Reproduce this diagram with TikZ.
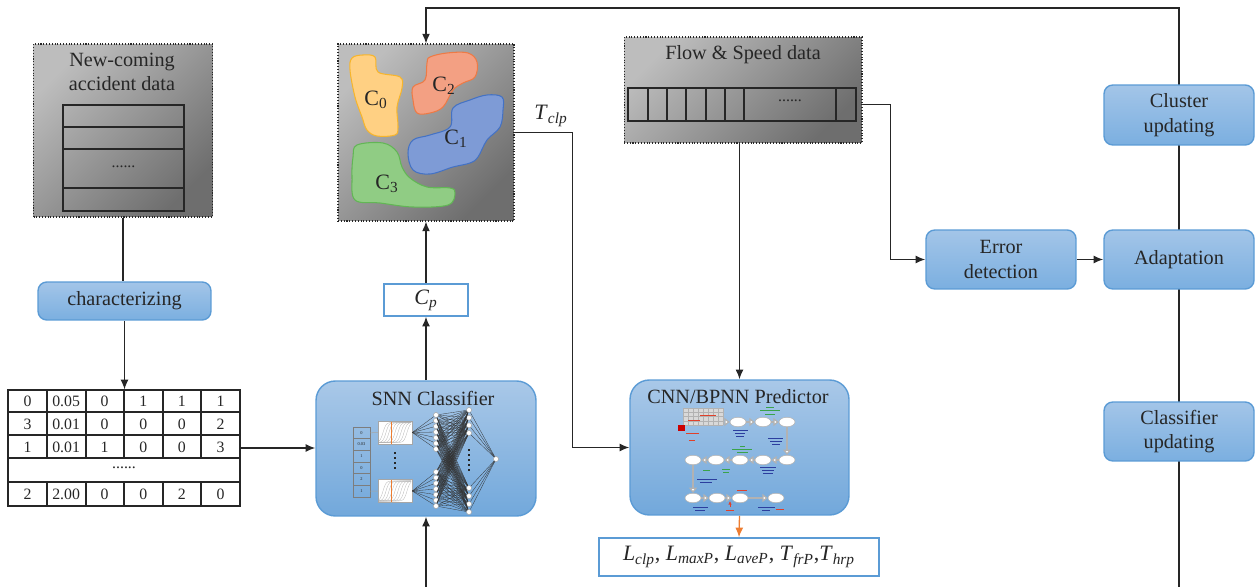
\documentclass[tikz,border=0pt]{standalone}
\usepackage{fontspec}
\setmainfont{Liberation Serif}
\usetikzlibrary{arrows.meta,shapes.geometric,calc}
\pgfdeclarelayer{background}
\pgfsetlayers{background,main}

\definecolor{ink}{HTML}{262626}
\definecolor{boxtop}{HTML}{A3C5E8}
\definecolor{boxbot}{HTML}{7BAFE0}
\definecolor{boxedge}{HTML}{5B9BD5}
\definecolor{bigtop}{HTML}{A9C8E8}
\definecolor{bigbot}{HTML}{72A8DB}
\definecolor{greylt}{HTML}{BDBDBD}
\definecolor{greydk}{HTML}{6E6E6E}
\definecolor{predout}{HTML}{ED7D31}
\definecolor{cyel}{HTML}{FFD083}
\definecolor{cyeledge}{HTML}{F7B52C}
\definecolor{cora}{HTML}{F3A083}
\definecolor{coraedge}{HTML}{EE7A45}
\definecolor{cblu}{HTML}{7E9BD6}
\definecolor{cbluedge}{HTML}{4472C4}
\definecolor{cgrn}{HTML}{90CC84}
\definecolor{cgrnedge}{HTML}{62B655}
\definecolor{scrblue}{HTML}{2C3E9E}
\definecolor{scrgreen}{HTML}{3AA34A}
\definecolor{scrred}{HTML}{E0402A}

\newcommand\itsub[2]{\textit{#1}\textsubscript{\textit{#2}}}
\newcommand\lbl{\fontsize{11.5}{14}\selectfont}

\tikzset{
  conn/.style={draw=ink, line width=0.75pt},
  arr/.style={conn, -{Latex[length=5.5pt,width=4.5pt]}},
  databox/.style={draw=ink, densely dotted, line width=0.6pt, inner sep=0pt,
    top color=greylt, bottom color=greydk, shading angle=45},
  procbox/.style={draw=boxedge, line width=0.8pt, rounded corners=5pt, inner sep=0pt,
    top color=boxtop, bottom color=boxbot, align=center, font=\lbl},
  bigbox/.style={draw=boxedge, line width=0.8pt, rounded corners=11pt, inner sep=0pt,
    top color=bigtop, bottom color=bigbot},
  outbox/.style={draw=boxedge, line width=0.8pt, fill=white, inner sep=0pt},
  tabline/.style={draw=ink, line width=0.7pt},
  cell/.style={font=\fontsize{9}{10}\selectfont, inner sep=0pt},
  blob/.style={line width=0.6pt},
  neuron/.style={circle, draw=gray!70, fill=white, line width=0.3pt, minimum size=2.9pt, inner sep=0pt},
  wire/.style={draw=black!80, line width=0.17pt},
  ell/.style={ellipse, draw=gray!60, fill=white, line width=0.3pt, minimum width=0.32cm, minimum height=0.19cm, inner sep=0pt},
  hollow/.style={draw=gray!60, line width=0.7pt, -{Triangle[length=3pt,width=4.5pt,fill=white]}},
  scrib/.style={line width=0.5pt, line cap=butt},
}

\begin{document}
\begin{tikzpicture}[x=0.02cm, y=-0.02cm, every node/.style={text=ink}]
\useasboundingbox (0,0) rectangle (1256,587);

% ---------- incoming accident records ----------
\node[databox, minimum width=3.58cm, minimum height=3.46cm] (newdata) at (123,130.5) {};
\node[font=\lbl, align=center] (newtitle) at (122,72) {New-coming\\accident data};
\node[tabline, minimum width=2.42cm, minimum height=2.12cm, inner sep=0pt] (rectab) at (123.5,158) {};
\foreach \yy in {127,149,188} \draw[tabline] (63,\yy) -- (184,\yy);
\node[cell] (recdots) at (123.5,167) {......};

\node[procbox, minimum width=3.46cm, minimum height=0.76cm] (charz) at (124.5,301) {characterizing};

% ---------- feature table ----------
\node[tabline, minimum width=4.64cm, minimum height=2.32cm, inner sep=0pt] (feat) at (124,448) {};
\foreach \yy in {412,435,458,482} \draw[tabline] (8,\yy) -- (240,\yy);
\foreach \xx in {47,86,124,163,201} {
  \draw[tabline] (\xx,390) -- (\xx,458);
  \draw[tabline] (\xx,482) -- (\xx,506);
}
\foreach \v [count=\c] in {0,0.05,0,1,1,1} \node[cell] (ra\c) at ({27.5+38.6*(\c-1)},401.5) {\v};
\foreach \v [count=\c] in {3,0.01,0,0,0,2} \node[cell] (rb\c) at ({27.5+38.6*(\c-1)},424) {\v};
\foreach \v [count=\c] in {1,0.01,1,0,0,3} \node[cell] (rc\c) at ({27.5+38.6*(\c-1)},447) {\v};
\node[cell] (featdots) at (124,468) {......};
\foreach \v [count=\c] in {2,2.00,0,0,2,0} \node[cell] (rd\c) at ({27.5+38.6*(\c-1)},494.5) {\v};

% ---------- SNN classifier ----------
\node[bigbox, minimum width=4.4cm, minimum height=2.7cm] (snn) at (426,448.5) {};
\node[font=\lbl] (snntitle) at (433,398) {SNN Classifier};
\foreach \v [count=\k] in {0,0.03,1,0,2,1}
  \node[draw=ink!60, line width=0.3pt, minimum width=0.34cm, minimum height=0.233cm, inner sep=0pt,
        font=\fontsize{2.5}{3}\selectfont] (vec\k) at (361.5,{427+11.67*(\k-0.5)}) {\v};
\foreach \b/\cy in {top/432.5, bot/491} {
  \node[draw=gray!70, fill=white, line width=0.3pt, minimum width=0.68cm, minimum height=0.46cm, inner sep=0pt] (sig\b) at (395,\cy) {};
  \foreach \s in {-12,-9,...,12}
    \draw[gray!60, line width=0.15pt] plot[domain=379:411, samples=25, variable=\t] (\t,{\cy-10*tanh((\t-395-\s)/3)});
  \draw[predout, line width=0.3pt] (391,\cy-11) -- (391,\cy+11);
}
\draw[gray!70, line width=0.3pt] (vec1.east) -- (sigtop.west);
\draw[gray!70, line width=0.3pt] (vec6.east) -- (sigbot.west);
\draw[ink, line width=0.9pt, dotted] (395,452) -- (395,472);
\foreach \k in {0,...,6} {
  \node[neuron] (na\k) at (436,{415+5.67*\k}) {};
  \node[neuron] (nb\k) at (436,{472+5.67*\k}) {};
}
\foreach \k in {0,...,3} {
  \node[neuron] (ma\k) at (469,{410+7.67*\k}) {};
  \node[neuron] (mb\k) at (469,{488+8*\k}) {};
}
\node[neuron] (nout) at (496,459) {};
\foreach \k in {0,...,6} {
  \draw[wire] (sigtop.east) -- (na\k);
  \draw[wire] (sigbot.east) -- (nb\k);
}
\foreach \i in {0,...,6} \foreach \j in {0,...,3} {
  \draw[wire] (na\i) -- (ma\j); \draw[wire] (na\i) -- (mb\j);
  \draw[wire] (nb\i) -- (ma\j); \draw[wire] (nb\i) -- (mb\j);
}
\foreach \j in {0,...,3} {
  \draw[wire] (ma\j) -- (nout);
  \draw[wire] (mb\j) -- (nout);
}
\draw[ink, line width=0.9pt, dotted] (469,449) -- (469,474);

\node[outbox, minimum width=1.68cm, minimum height=0.64cm, font=\fontsize{12.5}{14}\selectfont] (cp) at (426,300) {\itsub{C}{p}};

% ---------- clusters ----------
\node[databox, minimum width=3.52cm, minimum height=3.54cm] (clus) at (426,132.5) {};
\filldraw[blob, fill=cyel, draw=cyeledge] plot[smooth cycle, tension=0.6] coordinates
  {(352,58) (363,55) (375,57) (378,72) (400,77) (402,88) (397,107) (398,127) (395,135) (377,136) (367,130) (362,117) (355,97) (350,70)};
\filldraw[blob, fill=cora, draw=coraedge] plot[smooth cycle, tension=0.6] coordinates
  {(430,57) (447,53) (468,53) (477,62) (475,77) (463,83) (453,90) (443,107) (430,113) (417,113) (413,100) (413,87) (425,80) (427,63)};
\filldraw[blob, fill=cblu, draw=cbluedge] plot[smooth cycle, tension=0.6] coordinates
  {(487,95) (502,97) (503,110) (500,127) (487,140) (478,157) (470,163) (453,167) (430,174) (413,170) (408,153) (413,140) (430,135) (450,127) (453,108) (470,100)};
\filldraw[blob, fill=cgrn, draw=cgrnedge] plot[smooth cycle, tension=0.6] coordinates
  {(357,145) (383,143) (397,152) (402,167) (410,178) (427,187) (450,188) (455,193) (448,205) (413,207) (380,203) (355,200) (352,177) (353,157)};
\node[font=\fontsize{12.5}{14}\selectfont] (lc0) at (376,100) {C\textsubscript{0}};
\node[font=\fontsize{12.5}{14}\selectfont] (lc2) at (444,86) {C\textsubscript{2}};
\node[font=\fontsize{12.5}{14}\selectfont] (lc1) at (456,139) {C\textsubscript{1}};
\node[font=\fontsize{12.5}{14}\selectfont] (lc3) at (387,184) {C\textsubscript{3}};

% ---------- flow & speed data ----------
\node[databox, minimum width=4.76cm, minimum height=2.12cm] (flow) at (743,90) {};
\node[font=\lbl] (flowtitle) at (743,55) {Flow \& Speed data};
\node[tabline, minimum width=4.56cm, minimum height=0.66cm, inner sep=0pt] (flowstrip) at (742,104.5) {};
\foreach \xx in {648,667,686,706,725,744,836} \draw[tabline] (\xx,88) -- (\xx,121);
\node[cell] (flowdots) at (790,101) {......};

% ---------- CNN/BPNN predictor ----------
\node[bigbox, minimum width=4.38cm, minimum height=2.7cm] (cnn) at (739.5,447.5) {};
\node[font=\lbl] (cnntitle) at (738,397) {CNN/BPNN Predictor};
\fill[gray!30] (683,408) rectangle (723,425);
\foreach \yy in {408,412.25,416.5,420.75,425} \draw[gray!60, line width=0.2pt] (683,\yy) -- (723,\yy);
\foreach \xx in {683,688,693,698,703,708,713,718,723} \draw[gray!60, line width=0.2pt] (\xx,408) -- (\xx,425);
\fill[red!80!black] (678,425) rectangle (685,431);
\draw[scrib, scrred] (700,415) -- (716,415);
\draw[scrib, scrred] (688,420) -- (700,420);
\draw[scrib, scrred] (686,433) -- (699,433);
\draw[scrib, scrred] (689,440) -- (695,440);
\node[ell] (e11) at (738,422) {};
\node[ell] (e12) at (763,422) {};
\node[ell] (e13) at (787,422) {};
\node[ell] (e21) at (693,460) {};
\node[ell] (e22) at (716,460) {};
\node[ell] (e23) at (740,460) {};
\node[ell] (e24) at (763,460) {};
\node[ell] (e25) at (787,460) {};
\node[ell] (e31) at (693,498) {};
\node[ell] (e32) at (717,498) {};
\node[ell] (e33) at (740,498) {};
\node[ell] (e34) at (776,498) {};
\coordinate (gridout) at (725,422);
\draw[hollow] (gridout) -- (e11);
\draw[hollow] (e11) -- (e12);
\draw[hollow] (e12) -- (e13);
\draw[hollow] (e13) -- (e25);
\draw[hollow] (e25) -- (e24);
\draw[hollow] (e24) -- (e23);
\draw[hollow] (e23) -- (e22);
\draw[hollow] (e22) -- (e21);
\draw[hollow] (e21) -- (e31);
\draw[hollow] (e31) -- (e32);
\draw[hollow] (e32) -- (e33);
\draw[hollow] (e33) -- (e34);
\coordinate (noisein) at (730,507);
\draw[scrred, line width=0.4pt, -{Latex[length=2pt,width=2pt]}] (noisein) -- ++(0,-6);
% small annotations around the network steps
\draw[scrib, scrgreen] (766,407) -- (774,407);
\draw[scrib, scrgreen] (760,410.5) -- (780,410.5);
\draw[scrib, scrgreen] (765,414) -- (775,414);
\draw[scrib, scrblue] (733,430) -- (748,430);
\draw[scrib, scrblue] (735,433) -- (745,433);
\draw[scrib, scrblue] (736,436) -- (744,436);
\draw[scrib, scrblue] (768,438) -- (783,438);
\draw[scrib, scrblue] (770,441) -- (782,441);
\draw[scrib, scrblue] (772,444) -- (780,444);
\draw[scrib, scrgreen] (740,446) -- (745,446);
\draw[scrib, scrgreen] (732,449) -- (752,449);
\draw[scrib, scrgreen] (737,452) -- (748,452);
\draw[scrib, scrblue] (760,467) -- (776,467);
\draw[scrib, scrblue] (762,470) -- (774,470);
\draw[scrib, scrblue] (763,473) -- (773,473);
\draw[scrib, scrgreen] (703,470) -- (710,470);
\draw[scrib, scrgreen] (722,469) -- (730,469);
\draw[scrib, scrgreen] (723,472) -- (729,472);
\draw[scrib, scrblue] (697,479) -- (717,479);
\draw[scrib, scrblue] (700,482) -- (712,482);
\draw[scrib, scrred] (737,490) -- (747,490);
\draw[scrib, scrblue] (693,507) -- (708,507);
\draw[scrib, scrblue] (695,510) -- (705,510);
\draw[scrib, scrblue] (758,507) -- (775,507);
\draw[scrib, scrblue] (762,510) -- (770,510);
\draw[scrib, scrred] (776,509) -- (784,509);
\draw[scrib, scrred] (726,510) -- (734,510);

\node[outbox, minimum width=5.6cm, minimum height=0.76cm, font=\fontsize{12.5}{14}\selectfont] (outs) at (739,557)
  {\itsub{L}{clp}, \itsub{L}{maxP}, \itsub{L}{aveP}, \itsub{T}{frP},\itsub{T}{hrp}};

% ---------- adaptation loop ----------
\node[procbox, minimum width=3cm, minimum height=1.18cm] (errdet) at (1001,259.5) {Error\\detection};
\node[procbox, minimum width=3cm, minimum height=1.18cm] (adapt) at (1179,259.5) {Adaptation};
\node[procbox, minimum width=3cm, minimum height=1.2cm] (clustupd) at (1179,115) {Cluster\\updating};
\node[procbox, minimum width=3cm, minimum height=1.18cm] (clfupd) at (1179,431.5) {Classifier\\updating};

\node[font=\fontsize{12.5}{14}\selectfont] (tclp) at (551,116) {\itsub{T}{clp}};

% ---------- connectors ----------
\coordinate (trunkbot) at (1179,587);
\coordinate (trunktop) at (1179,8);
\coordinate (snnbot) at (426,587);
\begin{pgfonlayer}{background}
  \draw[conn] (newdata.south) -- (newdata.south |- charz.north);
  \draw[arr] (charz.south) -- (charz.south |- feat.north);
  \draw[arr] (feat.east) -- (feat.east -| snn.west);
  \draw[arr] (snn.north) -- (cp.south);
  \draw[arr] (cp.north) -- (clus.south);
  \draw[arr] (snnbot) -- (snn.south);
  \draw[arr] (trunkbot) -- (trunktop) -| (clus.north);
  \draw[arr] (clus.east) -- ++(58,0) |- (cnn.west);
  \draw[arr] (flowstrip.east) -- ++(34,0) |- (errdet.west);
  \draw[arr] (flow.south -| cnn.north) -- (cnn.north);
  \draw[arr] (errdet.east) -- (adapt.west);
  \draw[arr, draw=predout] (cnn.south) -- (outs.north);
\end{pgfonlayer}
\end{tikzpicture}
\end{document}
